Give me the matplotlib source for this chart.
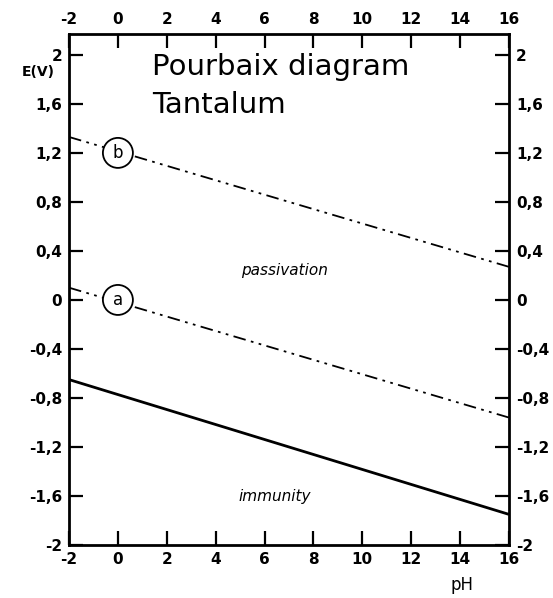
import matplotlib.pyplot as plt
from matplotlib.patches import Ellipse

# pH range and line end values (E in volts)
ph_ends = [-2, 16]
e_line_b = [1.33, 0.27]     # O2 / H2O
e_line_a = [0.10, -0.96]    # H2O / H2
e_ta = [-0.65, -1.75]       # Ta2O5 / Ta

x_ticks = [-2, 0, 2, 4, 6, 8, 10, 12, 14, 16]
y_ticks = [2, 1.6, 1.2, 0.8, 0.4, 0, -0.4, -0.8, -1.2, -1.6, -2]
y_labels = ["2", "1,6", "1,2", "0,8", "0,4", "0", "-0,4", "-0,8", "-1,2", "-1,6", "-2"]

circles = {"b": (0, 1.2), "a": (0, 0.0)}
regions = {"passivation": (6.8, 0.24), "immunity": (6.4, -1.6)}

fig = plt.figure(figsize=(5.53, 5.98), dpi=100)
ax = fig.add_axes([0.1248, 0.0886, 0.7956, 0.8545])
ax.set_xlim(-2, 16)
ax.set_ylim(-2, 2.17)

dashdotdot = (0, (7, 3, 1.5, 3, 1.5, 3))
ax.plot(ph_ends, e_line_b, color="black", lw=1.3, linestyle=dashdotdot)
ax.plot(ph_ends, e_line_a, color="black", lw=1.3, linestyle=dashdotdot)
ax.plot(ph_ends, e_ta, color="black", lw=2.0, solid_capstyle="butt")

# circled line labels, sized in pixels so they stay round
px_x = 18 / 440
px_y = 4.17 / 511
r = 15
for name, (cx, cy) in circles.items():
    ax.add_patch(Ellipse((cx, cy), 2 * r * px_x, 2 * r * px_y,
                         facecolor="white", edgecolor="black", lw=1.3, zorder=3))
    ax.text(cx, cy, name, ha="center", va="center", fontsize=12, zorder=4)

for name, (x, y) in regions.items():
    ax.text(x, y, name, ha="center", va="center", fontsize=11, style="italic")

ax.text(1.4, 1.90, "Pourbaix diagram", fontsize=21, va="center", ha="left")
ax.text(1.4, 1.59, "Tantalum", fontsize=21, va="center", ha="left")

for s in ax.spines.values():
    s.set_linewidth(2)

ax.set_xticks(x_ticks)
ax.set_xticklabels([str(v) for v in x_ticks])
ax.set_yticks(y_ticks)
ax.set_yticklabels(y_labels)
ax.tick_params(axis="both", which="both", direction="in", length=10, width=1.6,
               top=True, right=True, labeltop=True, labelright=True,
               labelsize=11, pad=5)
for lab in ax.get_xticklabels() + ax.get_yticklabels():
    lab.set_fontweight("bold")

fig.text(22 / 553, 1 - 72 / 598, "E(V)", fontsize=10, fontweight="bold", va="center", ha="left")
fig.text(462 / 553, 1 - 585 / 598, "pH", fontsize=12, va="center", ha="center")

fig.savefig("out.png", dpi=100)
